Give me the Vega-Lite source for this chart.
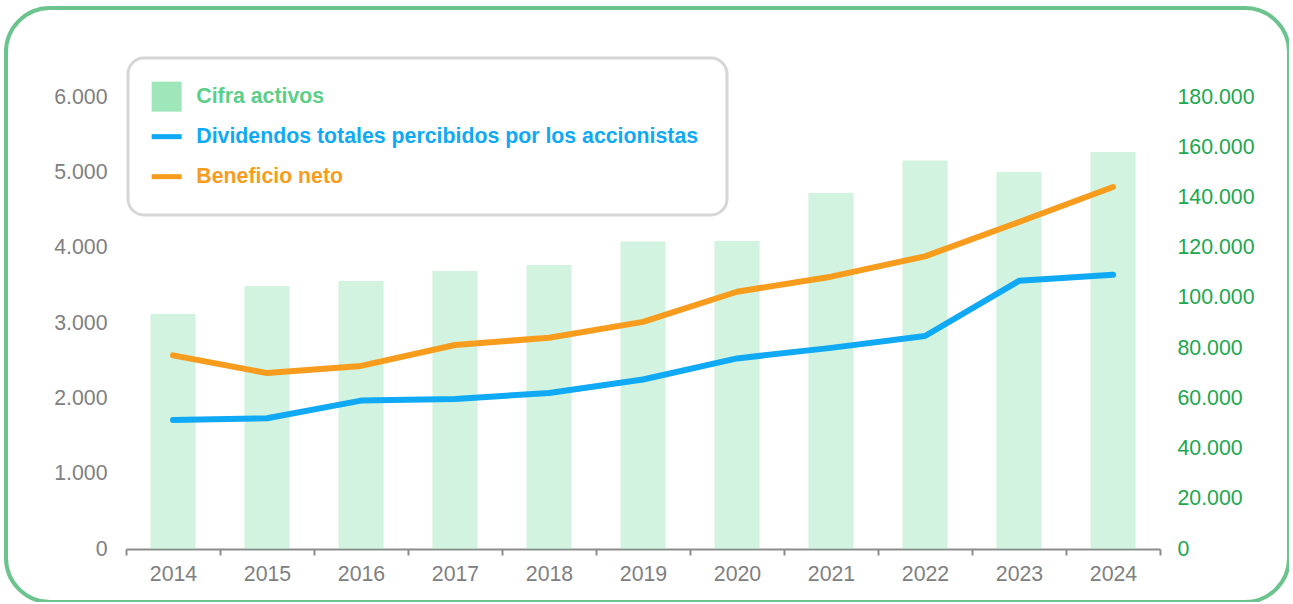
{
  "$schema": "https://vega.github.io/schema/vega-lite/v6.json",
  "width": 1283,
  "height": 594,
  "autosize": {"type": "none"},
  "padding": {"left": 6, "top": 8, "right": 0, "bottom": 0},
  "background": "white",
  "config": {
    "font": "Liberation Sans",
    "view": {"stroke": "#6bc38e", "strokeWidth": 4, "cornerRadius": 44, "fill": "white"}
  },
  "data": {
    "values": [
      {"year": "2014", "series": "Cifra activos", "value": 93600},
      {"year": "2015", "series": "Cifra activos", "value": 104700},
      {"year": "2016", "series": "Cifra activos", "value": 106700},
      {"year": "2017", "series": "Cifra activos", "value": 110700},
      {"year": "2018", "series": "Cifra activos", "value": 113100},
      {"year": "2019", "series": "Cifra activos", "value": 122500},
      {"year": "2020", "series": "Cifra activos", "value": 122700},
      {"year": "2021", "series": "Cifra activos", "value": 141800},
      {"year": "2022", "series": "Cifra activos", "value": 154700},
      {"year": "2023", "series": "Cifra activos", "value": 150100},
      {"year": "2024", "series": "Cifra activos", "value": 158100},
      {"year": "2014", "series": "Dividendos totales percibidos por los accionistas", "value": 1712},
      {"year": "2015", "series": "Dividendos totales percibidos por los accionistas", "value": 1735},
      {"year": "2016", "series": "Dividendos totales percibidos por los accionistas", "value": 1970},
      {"year": "2017", "series": "Dividendos totales percibidos por los accionistas", "value": 1991},
      {"year": "2018", "series": "Dividendos totales percibidos por los accionistas", "value": 2071},
      {"year": "2019", "series": "Dividendos totales percibidos por los accionistas", "value": 2250},
      {"year": "2020", "series": "Dividendos totales percibidos por los accionistas", "value": 2530},
      {"year": "2021", "series": "Dividendos totales percibidos por los accionistas", "value": 2670},
      {"year": "2022", "series": "Dividendos totales percibidos por los accionistas", "value": 2827},
      {"year": "2023", "series": "Dividendos totales percibidos por los accionistas", "value": 3560},
      {"year": "2024", "series": "Dividendos totales percibidos por los accionistas", "value": 3640},
      {"year": "2014", "series": "Beneficio neto", "value": 2570},
      {"year": "2015", "series": "Beneficio neto", "value": 2335},
      {"year": "2016", "series": "Beneficio neto", "value": 2430},
      {"year": "2017", "series": "Beneficio neto", "value": 2708},
      {"year": "2018", "series": "Beneficio neto", "value": 2805},
      {"year": "2019", "series": "Beneficio neto", "value": 3015},
      {"year": "2020", "series": "Beneficio neto", "value": 3415},
      {"year": "2021", "series": "Beneficio neto", "value": 3615},
      {"year": "2022", "series": "Beneficio neto", "value": 3885},
      {"year": "2023", "series": "Beneficio neto", "value": 4341},
      {"year": "2024", "series": "Beneficio neto", "value": 4805}
    ]
  },
  "encoding": {
    "x": {
      "field": "year",
      "type": "ordinal",
      "scale": {"type": "band", "range": [120, 1154], "paddingInner": 0, "paddingOuter": 0},
      "axis": {
        "title": null,
        "labelAngle": 0,
        "offset": -53,
        "tickBand": "extent",
        "tickSize": 6,
        "tickWidth": 2,
        "tickColor": "#8c8c8c",
        "domainColor": "#8c8c8c",
        "domainWidth": 2,
        "labelColor": "#808080",
        "labelFontSize": 21.3,
        "labelPadding": 8,
        "grid": false
      }
    },
    "color": {
      "field": "series",
      "type": "nominal",
      "scale": {
        "domain": ["Cifra activos", "Dividendos totales percibidos por los accionistas", "Beneficio neto"],
        "range": ["#9fe6bb", "#0fa9f6", "#f89c1e"]
      },
      "legend": {
        "title": null,
        "orient": "none",
        "legendX": 122,
        "legendY": 50,
        "padding": 28,
        "strokeColor": "#d6d6d6",
        "cornerRadius": 16,
        "fillColor": "white",
        "gridAlign": "all",
        "labelFontSize": 21.3,
        "labelFontWeight": "bold",
        "labelOffset": 19,
        "labelLimit": 700,
        "rowPadding": 13,
        "symbolSize": 900,
        "symbolStrokeWidth": 5,
        "symbolOpacity": 1,
        "encode": {
          "legend": {
            "update": {"strokeWidth": {"value": 3}}
          },
          "symbols": {
            "update": {
              "shape": {"signal": "datum.value === 'Cifra activos' ? 'square' : 'stroke'"},
              "fill": {"signal": "datum.value === 'Cifra activos' ? '#9fe6bb' : 'transparent'"},
              "stroke": {"signal": "datum.value === 'Cifra activos' ? 'transparent' : (datum.value === 'Beneficio neto' ? '#f89c1e' : '#0fa9f6')"},
              "strokeWidth": {"signal": "datum.value === 'Cifra activos' ? 0 : 5"},
              "opacity": {"value": 1},
              "fillOpacity": {"value": 1}
            }
          },
          "labels": {
            "update": {
              "fill": {"signal": "datum.value === 'Cifra activos' ? '#5bcf88' : (datum.value === 'Beneficio neto' ? '#f89c1e' : '#0fa9f6')"}
            }
          }
        }
      }
    }
  },
  "layer": [
    {
      "transform": [{"filter": "datum.series === 'Cifra activos'"}],
      "mark": {"type": "bar", "width": {"band": 0.48}, "fillOpacity": 0.47},
      "encoding": {
        "y": {
          "field": "value",
          "type": "quantitative",
          "scale": {"domain": [0, 180000], "range": [541, 89], "nice": false, "zero": true},
          "axis": {
            "orient": "right",
            "title": null,
            "offset": -129,
            "values": [0, 20000, 40000, 60000, 80000, 100000, 120000, 140000, 160000, 180000],
            "labelExpr": "replace(format(datum.value, ',d'), /,/g, '.')",
            "domain": false,
            "ticks": false,
            "grid": false,
            "labelColor": "#1ca74e",
            "labelFontSize": 21.3,
            "labelPadding": 17
          }
        }
      }
    },
    {
      "transform": [{"filter": "datum.series !== 'Cifra activos'"}],
      "mark": {"type": "line", "strokeWidth": 6, "strokeCap": "round", "strokeJoin": "round"},
      "encoding": {
        "y": {
          "field": "value",
          "type": "quantitative",
          "scale": {"domain": [0, 6000], "range": [541, 89], "nice": false},
          "axis": {
            "orient": "left",
            "title": null,
            "offset": -120,
            "values": [0, 1000, 2000, 3000, 4000, 5000, 6000],
            "labelExpr": "replace(format(datum.value, ',d'), /,/g, '.')",
            "domain": false,
            "ticks": false,
            "grid": false,
            "labelColor": "#808080",
            "labelFontSize": 21.3,
            "labelPadding": 19
          }
        }
      }
    }
  ],
  "resolve": {"scale": {"y": "independent"}}
}
